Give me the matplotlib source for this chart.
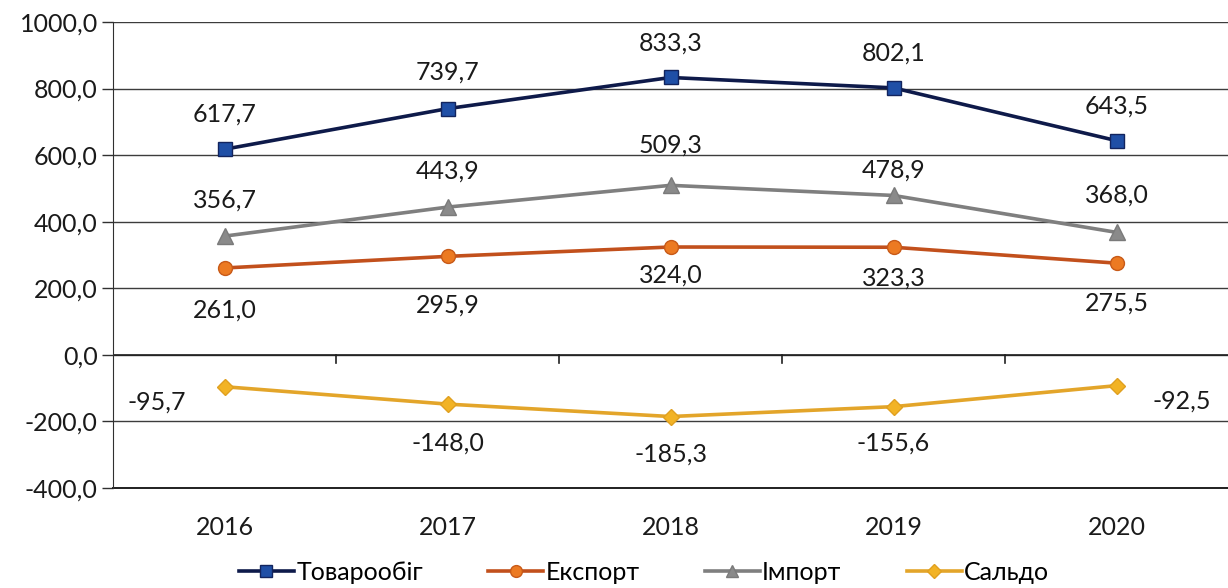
import matplotlib
matplotlib.use("Agg")
import matplotlib.pyplot as plt
import matplotlib.transforms as mtransforms

years = ["2016", "2017", "2018", "2019", "2020"]
turnover = [617.7, 739.7, 833.3, 802.1, 643.5]
export = [261.0, 295.9, 324.0, 323.3, 275.5]
imports = [356.7, 443.9, 509.3, 478.9, 368.0]
balance = [-95.7, -148.0, -185.3, -155.6, -92.5]
series_names = ["Товарообіг", "Експорт", "Імпорт", "Сальдо"]
y_ticks = [-400, -200, 0, 200, 400, 600, 800, 1000]

plt.rcParams['font.family'] = ['Lato', 'DejaVu Sans']

fig = plt.figure(figsize=(12.28, 5.88), dpi=100)
ax = fig.add_axes([113/1228, 1-488/588, 1-113/1228, (488-22)/588])

x = list(range(len(years)))

styles = [
    dict(color="#0e1a4a", marker="s", mfc="#1f4fa6", mec="#12245e", ms=10),
    dict(color="#c2501c", marker="o", mfc="#ec7a22", mec="#c85a18", ms=10),
    dict(color="#7f7f7f", marker="^", mfc="#8a8a8a", mec="#7a7a7a", ms=11),
    dict(color="#e3a52a", marker="D", mfc="#f2b325", mec="#e0a020", ms=8),
]
data = [turnover, export, imports, balance]

for vals, name, st in zip(data, series_names, styles):
    ax.plot(x, vals, lw=2.6, label=name, zorder=3, **st)

def fmt(v):
    return f"{v:.1f}".replace(".", ",")

FS = 18
# label offsets (points) per series / point
off_turn = [(0, 25), (0, 26), (0, 25), (0, 25), (0, 25)]
off_imp = [(0, 26), (0, 26), (0, 29), (0, 18), (0, 27)]
off_exp = [(0, -30), (0, -35), (0, -20), (0, -22), (0, -29)]
off_bal = [(-49, -11), (0, -28), (0, -27), (0, -26), (47, -11)]
for vals, offs in zip(data, [off_turn, off_exp, off_imp, off_bal]):
    for xi, v, o in zip(x, vals, offs):
        ax.annotate(fmt(v), (xi, v), xytext=o, textcoords="offset points",
                    ha="center", va="center", fontsize=FS, color="#1a1a1a", zorder=4)

ax.set_xlim(-0.5, len(years) - 0.5)
ax.set_ylim(y_ticks[0], y_ticks[-1])
ax.set_yticks(y_ticks)
ax.set_yticklabels([fmt(t) for t in y_ticks])
ax.set_xticks(x)
ax.set_xticklabels(years)
ax.tick_params(axis='x', length=0, pad=20, labelsize=FS, colors="#1a1a1a")
ax.tick_params(axis='y', length=8, width=1, color="#303030", pad=3, labelsize=FS, colors="#1a1a1a")

ax.grid(axis='y', color="#3c3c3c", lw=1.0, zorder=1)
ax.set_axisbelow(True)
for s in ["top", "right", "bottom"]:
    ax.spines[s].set_visible(False)
ax.spines["left"].set_color("#303030")
ax.axhline(0, color="#202020", lw=1.2, zorder=2)
ax.axhline(y_ticks[0], color="#202020", lw=1.4, zorder=2, clip_on=False)

# category boundary ticks on zero line
trans = mtransforms.blended_transform_factory(ax.transData, ax.transData)
for b in [i + 0.5 for i in x[:-1]]:
    ax.plot([b, b], [0, -24], color="#202020", lw=1.2, transform=trans, zorder=2, clip_on=False)

fig.legend(loc="center", bbox_to_anchor=(644/1228, 1-572/588), ncol=4, frameon=False,
           fontsize=FS, handlelength=2.2, columnspacing=2.6, handletextpad=0.1, markerscale=0.85)

fig.savefig("out.png", dpi=100, facecolor="white")
